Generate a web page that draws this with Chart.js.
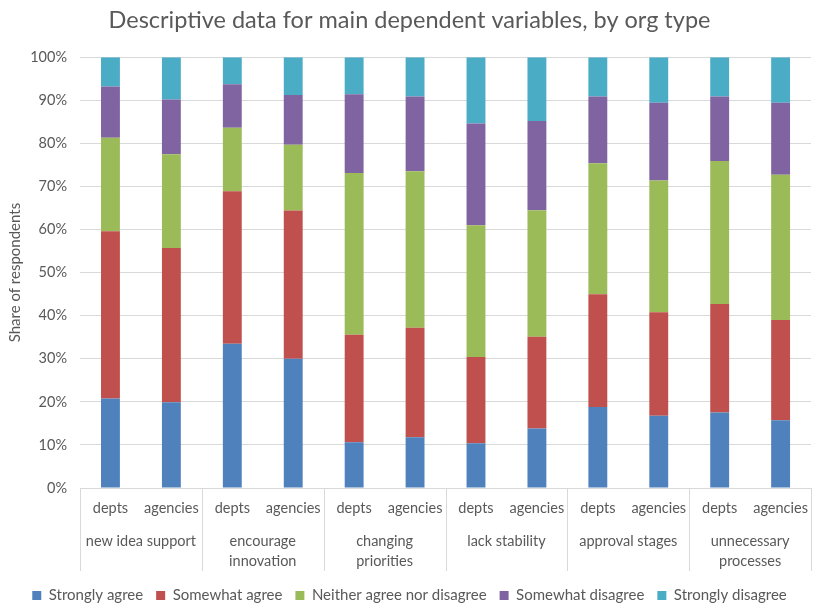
<!DOCTYPE html>
<html>
<head>
<meta charset="utf-8">
<script src="https://cdn.jsdelivr.net/npm/chart.js@4.4.1/dist/chart.umd.min.js"></script>
<style>
  html, body { margin: 0; padding: 0; background: #ffffff; }
  #wrap { width: 820px; height: 603px; }
</style>
</head>
<body>
<div id="wrap"><canvas id="c" width="820" height="603"></canvas></div>
<script>
// ---- data ----
const barLabels = ['depts', 'agencies', 'depts', 'agencies', 'depts', 'agencies',
                   'depts', 'agencies', 'depts', 'agencies', 'depts', 'agencies'];
const groupLabels = ['new idea support', ['encourage', 'innovation'], ['changing', 'priorities'],
                     'lack stability', 'approval stages', ['unnecessary', 'processes']];
const seriesNames = ['Strongly agree', 'Somewhat agree', 'Neither agree nor disagree',
                     'Somewhat disagree', 'Strongly disagree'];
const stronglyAgree    = [20.8, 19.9, 33.5, 30.0, 10.6, 11.8, 10.4, 13.8, 18.8, 16.8, 17.5, 15.7];
const somewhatAgree    = [38.8, 35.8, 35.4, 34.4, 25.0, 25.4, 20.0, 21.3, 26.2, 24.0, 25.2, 23.3];
const neither          = [21.7, 21.8, 14.7, 15.3, 37.5, 36.3, 30.6, 29.4, 30.4, 30.6, 33.2, 33.7];
const somewhatDisagree = [11.9, 12.7, 10.1, 11.5, 18.3, 17.4, 23.6, 20.7, 15.5, 18.0, 15.0, 16.7];
const stronglyDisagree = [ 6.8,  9.8,  6.3,  8.8,  8.6,  9.1, 15.4, 14.8,  9.1, 10.6,  9.1, 10.6];
const yTicks = [0, 10, 20, 30, 40, 50, 60, 70, 80, 90, 100];

const colors = ['#4f81bd', '#c0504d', '#9bbb59', '#8064a2', '#4bacc6'];
const seriesData = [stronglyAgree, somewhatAgree, neither, somewhatDisagree, stronglyDisagree];

const FONT = 'Lato, "Open Sans", sans-serif';
const TXT = '#595959';
const GRID = '#d9d9d9';

const groupSeparators = {
  id: 'groupSeparators',
  afterDraw(chart) {
    const x = chart.scales.x;
    const x2 = chart.scales.x2;
    const ctx = chart.ctx;
    const top = chart.chartArea.bottom;
    const bottom = x2.bottom - 4;
    const xs = [x.left];
    for (let i = 2; i < barLabels.length; i += 2) {
      xs.push((x.getPixelForValue(i - 1) + x.getPixelForValue(i)) / 2);
    }
    xs.push(x.right);
    ctx.save();
    ctx.strokeStyle = GRID;
    ctx.lineWidth = 1;
    xs.forEach(px => {
      const p = Math.round(px) + 0.5;
      ctx.beginPath();
      ctx.moveTo(p, top);
      ctx.lineTo(p, bottom);
      ctx.stroke();
    });
    ctx.restore();
  }
};

new Chart(document.getElementById('c'), {
  type: 'bar',
  data: {
    labels: barLabels,
    datasets: seriesNames.map((n, i) => ({
      label: n,
      data: seriesData[i],
      backgroundColor: colors[i],
      borderWidth: 0,
      barPercentage: 0.31,
      categoryPercentage: 1.0
    }))
  },
  options: {
    responsive: false,
    animation: false,
    layout: { padding: { left: 0, right: 1, top: 0, bottom: -10 } },
    plugins: {
      title: {
        display: true,
        text: 'Descriptive data for main dependent variables, by org type',
        color: TXT,
        font: { family: FONT, size: 23.5, weight: 'normal' },
        padding: { top: 6, bottom: 23 }
      },
      legend: {
        position: 'bottom',
        labels: {
          color: TXT,
          font: { family: FONT, size: 15 },
          boxWidth: 9,
          boxHeight: 9,
          padding: 13
        }
      },
      tooltip: { enabled: false }
    },
    scales: {
      x: {
        stacked: true,
        grid: { display: false, drawTicks: false },
        border: { display: false },
        ticks: { color: TXT, font: { family: FONT, size: 14.5 }, padding: 12, maxRotation: 0, autoSkip: false },
        afterFit: s => { s.height = 43; }
      },
      x2: {
        type: 'category',
        position: 'bottom',
        labels: groupLabels,
        offset: true,
        grid: { display: false, drawTicks: false },
        border: { display: false },
        ticks: { color: TXT, font: { family: FONT, size: 14.5, lineHeight: 1.38 }, padding: 0, maxRotation: 0, autoSkip: false },
        afterFit: s => { s.height = 44; }
      },
      y: {
        stacked: true,
        min: 0,
        max: 100,
        afterBuildTicks: s => { s.ticks = yTicks.map(v => ({ value: v })); },
        afterFit: s => { s.width = 80; },
        grid: { color: GRID, drawTicks: false },
        border: { display: false },
        ticks: { color: TXT, font: { family: FONT, size: 14.5 }, padding: 13, callback: v => v + '%' },
        title: {
          display: true,
          text: 'Share of respondents',
          color: TXT,
          font: { family: FONT, size: 15 },
          padding: { top: 6, bottom: 0 }
        }
      }
    }
  },
  plugins: [groupSeparators]
});
</script>
</body>
</html>
